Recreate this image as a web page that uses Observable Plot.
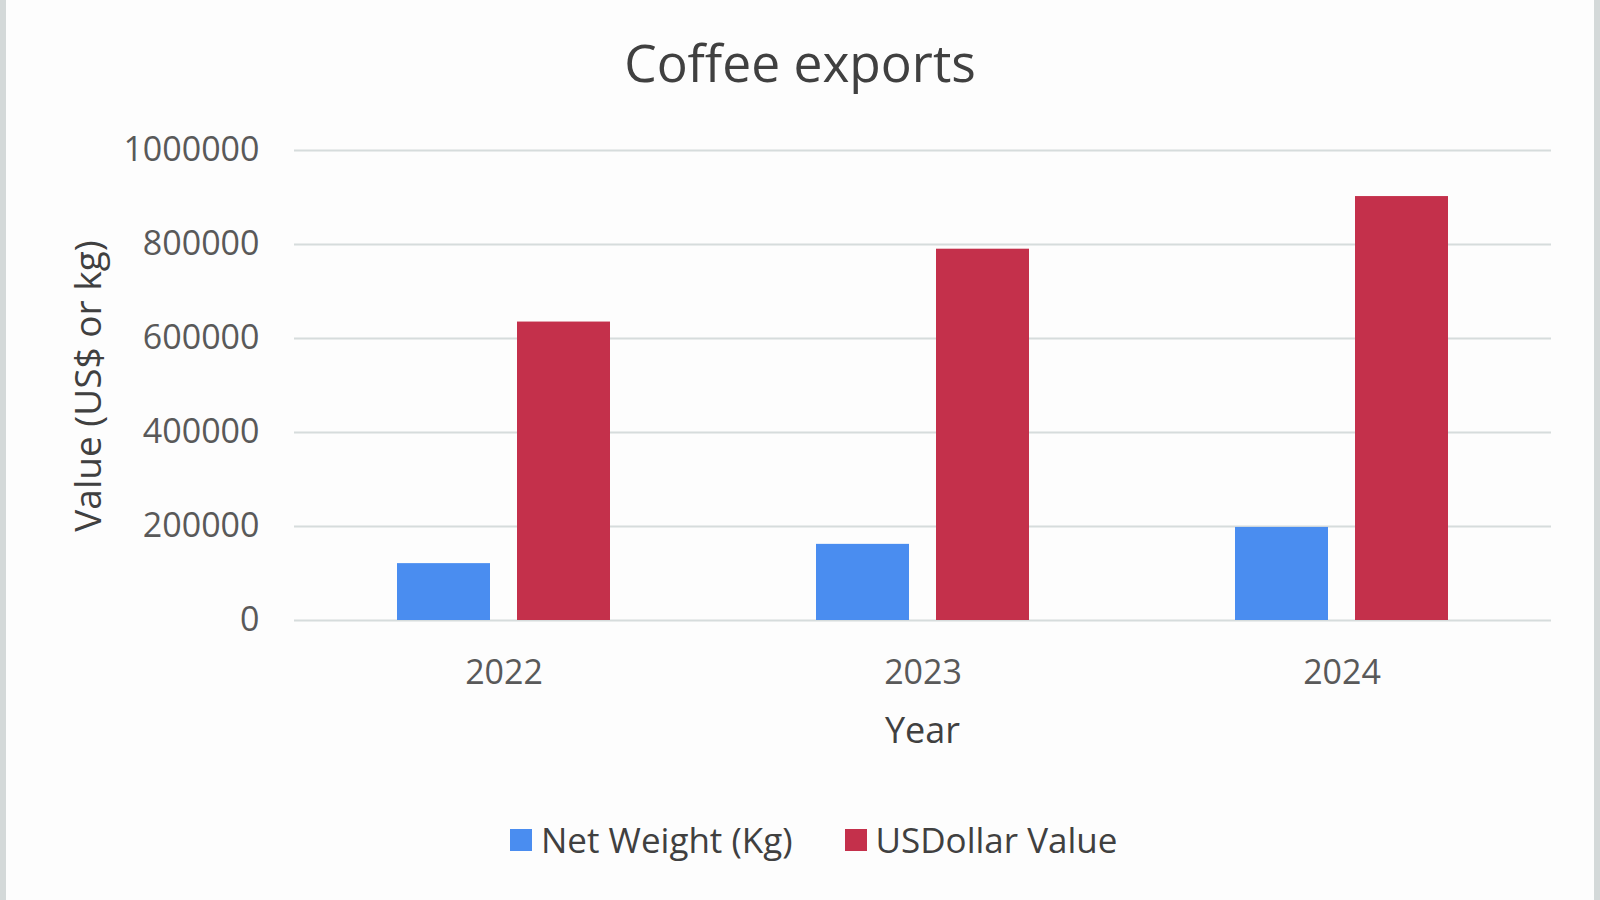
<!DOCTYPE html>
<html>
<head>
<meta charset="utf-8">
<script src="https://cdn.jsdelivr.net/npm/d3@7"></script>
<script src="https://cdn.jsdelivr.net/npm/@observablehq/plot@0.6"></script>
<style>
  html, body { margin: 0; padding: 0; background: #ffffff; }
  #wrap { position: relative; width: 1600px; height: 900px; overflow: hidden; background: #fdfdfd;
          font-family: "Open Sans", sans-serif; }
  #wrap::before { content: ""; position: absolute; left: 0; top: 0; bottom: 0; width: 6px; background: #d4d9d9; }
  #wrap::after { content: ""; position: absolute; right: 0; top: 0; bottom: 0; width: 6px; background: #d4d9d9; }
  #title { position: absolute; left: 0; width: 1600px; top: 37px; text-align: center; font-size: 51.5px; color: #404040; line-height: 1; }
  #chart { position: absolute; left: 0; top: 0; }
  #ylabel { position: absolute; left: 86px; top: 386px; transform: translate(-50%, -50%) rotate(-90deg); font-size: 37px; color: #404040; white-space: nowrap; line-height: 1; }
  #xlabel { position: absolute; left: 0; width: 1845px; top: 712px; text-align: center; font-size: 36px; color: #404040; line-height: 1; }
  #legend { position: absolute; top: 822px; left: 510px; display: flex; align-items: center; font-size: 35px; color: #404040; line-height: 1; }
  .item { display: flex; align-items: center; margin-right: 52px; }
  .sw { width: 22px; height: 22px; margin-right: 9px; }
</style>
</head>
<body>
<div id="wrap">
  <div id="title">Coffee exports</div>
  <div id="chart"></div>
  <div id="ylabel">Value (US$ or kg)</div>
  <div id="xlabel">Year</div>
  <div id="legend"></div>
</div>
<script>
const years = ["2022", "2023", "2024"];
const series = ["Net Weight (Kg)", "USDollar Value"];
const netWeight = [121000, 162000, 198000];
const usdValue = [635000, 790000, 902000];
const colors = ["#4a8df0", "#c4304b"];
const yTicks = [0, 200000, 400000, 600000, 800000, 1000000];

const data = years.flatMap((y, i) => [
  {year: y, series: series[0], value: netWeight[i]},
  {year: y, series: series[1], value: usdValue[i]}
]);

const chart = Plot.plot({
  width: 1600,
  height: 760,
  marginLeft: 294,
  marginRight: 49,
  marginTop: 150,
  marginBottom: 140,
  style: {fontFamily: "Open Sans, sans-serif", fontSize: "34px", color: "#595959", background: "transparent", overflow: "visible"},
  fx: {domain: years, paddingInner: 0, paddingOuter: 0, label: null, axis: null},
  x: {domain: series, paddingInner: 0.225, paddingOuter: 0.858, axis: null},
  y: {domain: [0, 1000000], label: null, axis: null},
  color: {domain: series, range: colors},
  marks: [
    Plot.ruleY(yTicks, {stroke: "#d6dcdc", strokeWidth: 2}),
    Plot.barY(data, {fx: "year", x: "series", y: "value", fill: "series"}),
    Plot.axisY({ticks: yTicks, tickSize: 0, tickPadding: 35, tickFormat: d => String(d), label: null, fontSize: 34}),
    Plot.axisFx({anchor: "bottom", tickSize: 0, tickPadding: 39, label: null, fontSize: 34})
  ]
});
document.getElementById("chart").appendChild(chart);

const legend = document.getElementById("legend");
series.forEach((s, i) => {
  const item = document.createElement("div");
  item.className = "item";
  const sw = document.createElement("div");
  sw.className = "sw";
  sw.style.background = colors[i];
  const label = document.createElement("span");
  label.textContent = s;
  item.appendChild(sw);
  item.appendChild(label);
  legend.appendChild(item);
});
</script>
</body>
</html>
